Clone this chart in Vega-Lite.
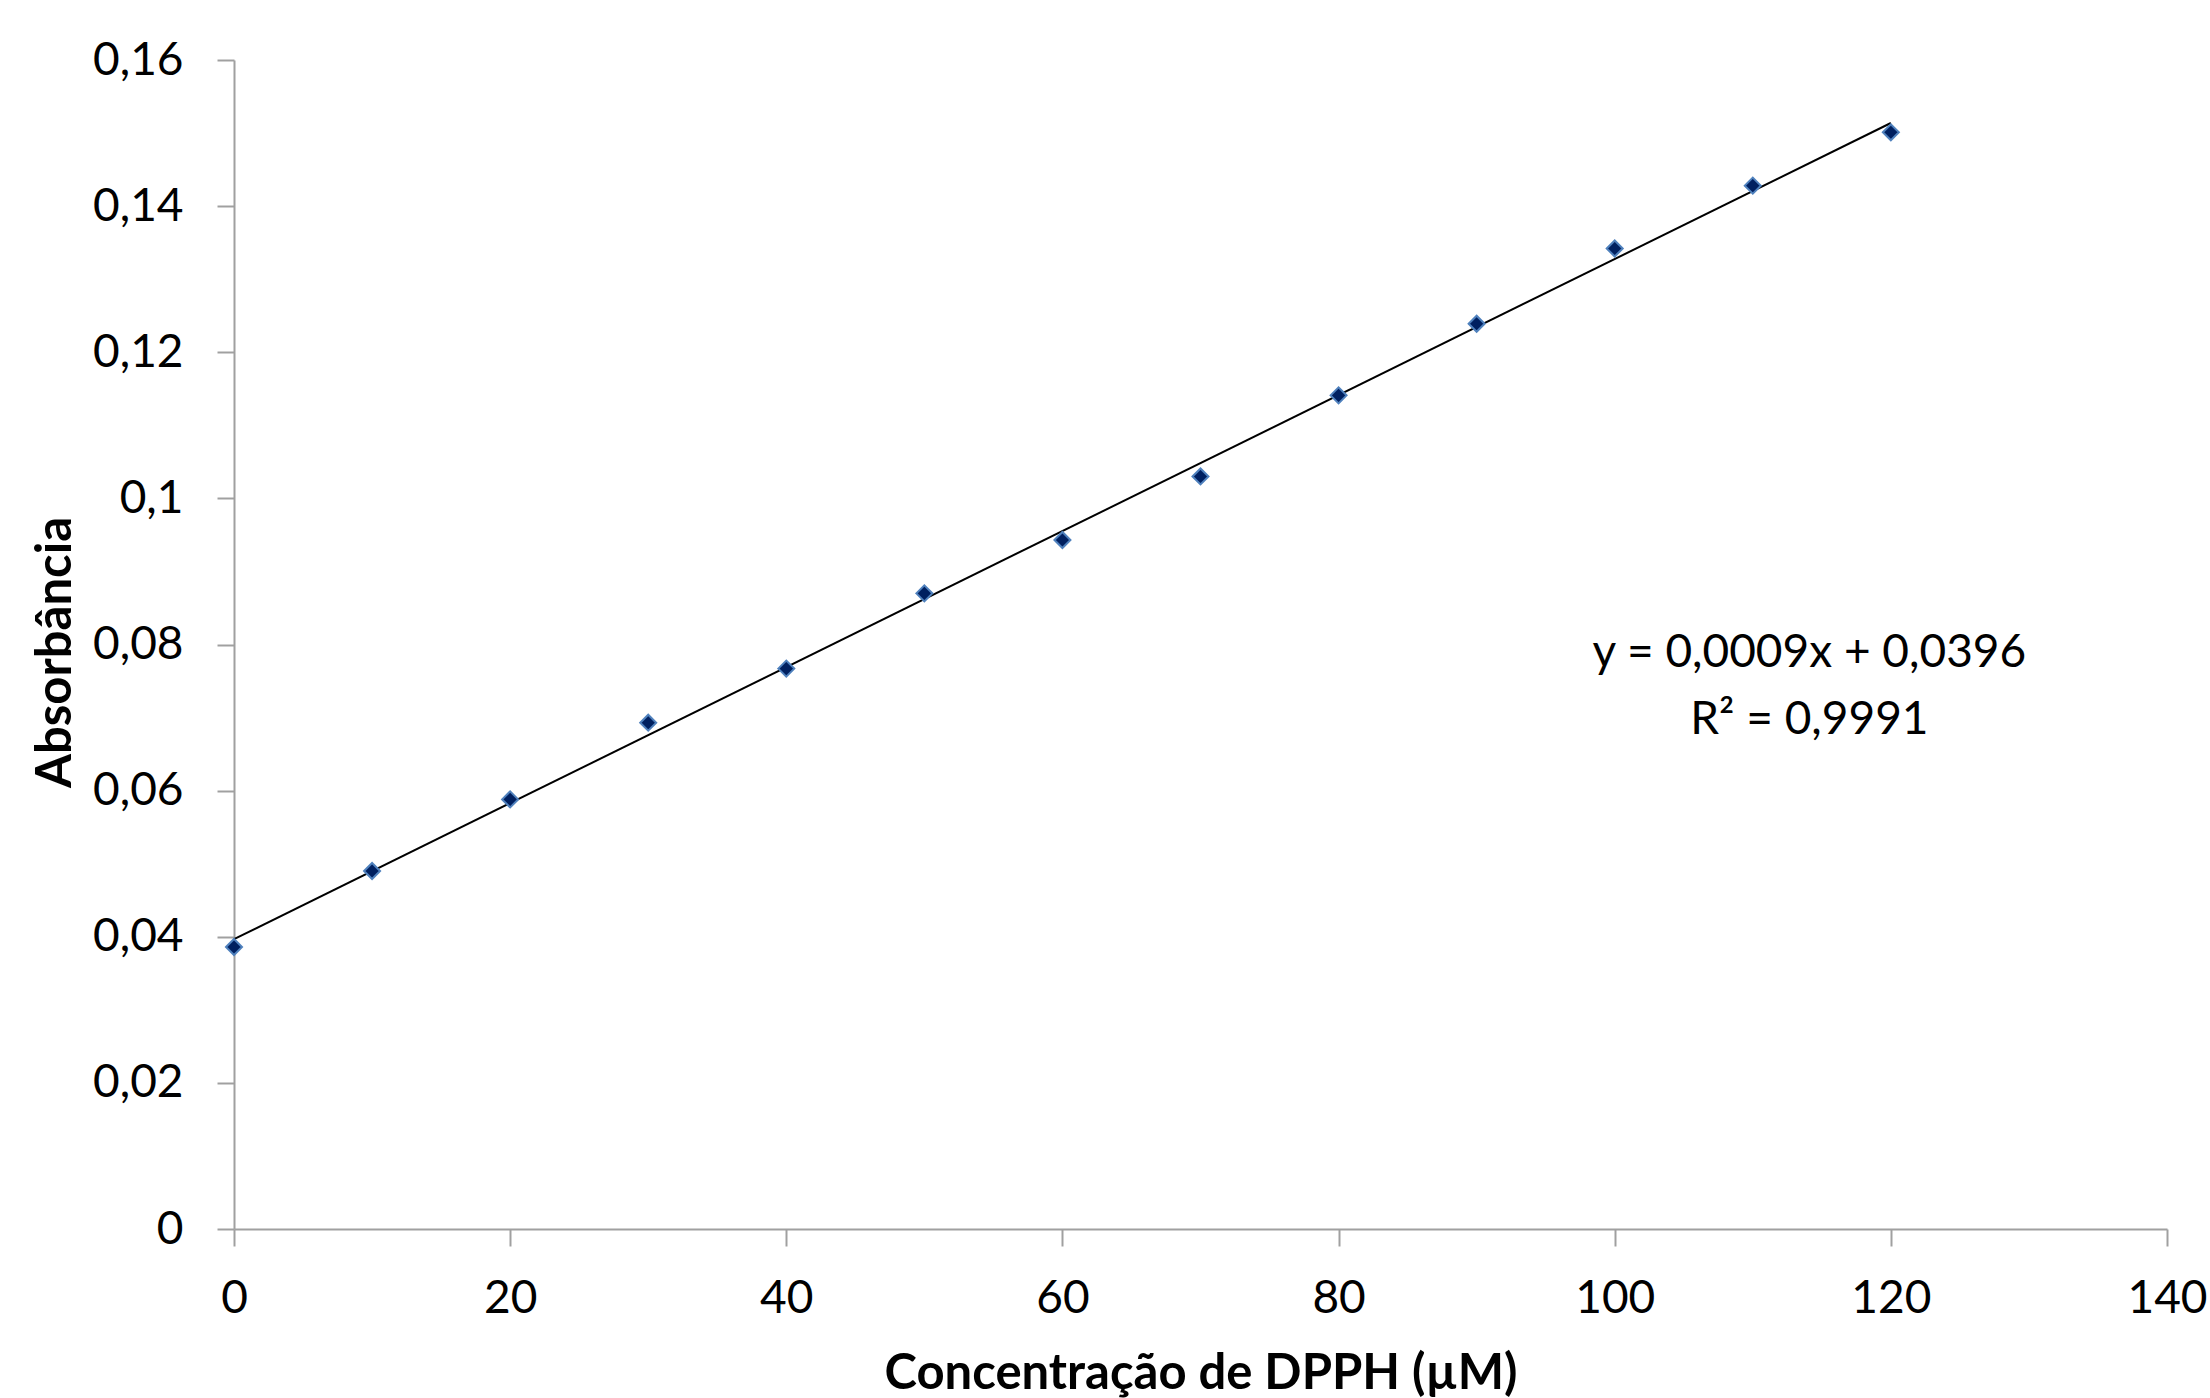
{
  "$schema": "https://vega.github.io/schema/vega-lite/v6.json",
  "width": 1933,
  "height": 1169,
  "autosize": "none",
  "padding": {"left": 234, "top": 60, "right": 43, "bottom": 169},
  "background": "white",
  "config": {
    "view": {"stroke": null},
    "font": "Lato",
    "axis": {
      "labelFont": "Lato",
      "labelFontSize": 46,
      "labelColor": "black",
      "titleFont": "Lato",
      "titleFontSize": 49,
      "titleFontWeight": "bold",
      "titleColor": "black",
      "domainColor": "#a0a0a0",
      "domainWidth": 2,
      "tickColor": "#a0a0a0",
      "tickWidth": 2,
      "tickSize": 17,
      "grid": false
    }
  },
  "data": {
    "values": [
      {"conc": 0, "abs": 0.0386},
      {"conc": 10, "abs": 0.0490},
      {"conc": 20, "abs": 0.0588},
      {"conc": 30, "abs": 0.0693},
      {"conc": 40, "abs": 0.0767},
      {"conc": 50, "abs": 0.0870},
      {"conc": 60, "abs": 0.0943},
      {"conc": 70, "abs": 0.1030},
      {"conc": 80, "abs": 0.1141},
      {"conc": 90, "abs": 0.1239},
      {"conc": 100, "abs": 0.1342},
      {"conc": 110, "abs": 0.1428},
      {"conc": 120, "abs": 0.1501}
    ]
  },
  "encoding": {
    "x": {
      "field": "conc",
      "type": "quantitative",
      "scale": {"domain": [0, 140], "nice": false},
      "axis": {
        "title": "Concentração de DPPH (µM)",
        "values": [0, 20, 40, 60, 80, 100, 120, 140],
        "labelPadding": 30,
        "labelFlush": false,
        "labelOverlap": false,
        "titleBaseline": "alphabetic",
        "titleY": 159
      }
    },
    "y": {
      "field": "abs",
      "type": "quantitative",
      "scale": {"domain": [0, 0.16], "nice": false},
      "axis": {
        "title": "Absorbância",
        "values": [0, 0.02, 0.04, 0.06, 0.08, 0.1, 0.12, 0.14, 0.16],
        "labelExpr": "replace(format(datum.value, ''), '.', ',')",
        "labelPadding": 34,
        "labelFlush": false,
        "labelOverlap": false,
        "labelBaseline": "middle",
        "titleBaseline": "alphabetic",
        "titleAngle": 270,
        "titleAlign": "center",
        "titleX": -164,
        "titleY": 592
      }
    }
  },
  "layer": [
    {
      "transform": [{"regression": "abs", "on": "conc"}],
      "mark": {"type": "line", "color": "black", "strokeWidth": 2}
    },
    {
      "mark": {
        "type": "point",
        "shape": "diamond",
        "filled": true,
        "fill": "#002060",
        "stroke": "#4F81BD",
        "strokeWidth": 2,
        "size": 256,
        "opacity": 1
      }
    },
    {
      "transform": [{"filter": "datum.conc == 0"}],
      "mark": {"type": "text", "fontSize": 46, "font": "Lato", "fontWeight": "normal", "fill": "black", "align": "center", "baseline": "middle", "text": "y = 0,0009x + 0,0396"},
      "encoding": {
        "x": {"datum": 114.1, "type": "quantitative"},
        "y": {"datum": 0.0788, "type": "quantitative"}
      }
    },
    {
      "transform": [{"filter": "datum.conc == 0"}],
      "mark": {"type": "text", "fontSize": 46, "font": "Lato", "fontWeight": "normal", "fill": "black", "align": "center", "baseline": "middle", "text": "R² = 0,9991"},
      "encoding": {
        "x": {"datum": 114.1, "type": "quantitative"},
        "y": {"datum": 0.0697, "type": "quantitative"}
      }
    }
  ]
}
